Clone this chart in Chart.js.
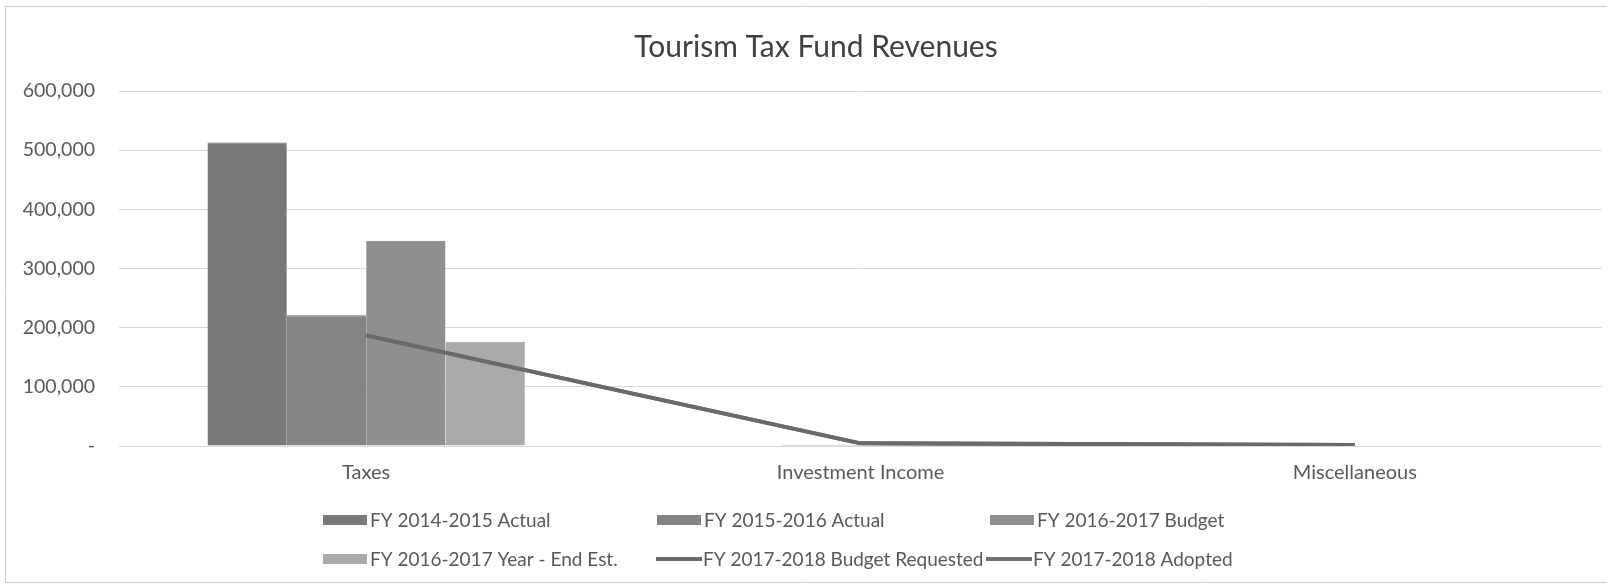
<!DOCTYPE html>
<html>
<head>
<meta charset="utf-8">
<script src="https://cdn.jsdelivr.net/npm/chart.js@4/dist/chart.umd.min.js"></script>
<style>
html,body{margin:0;padding:0;background:#ffffff;}
#wrap{width:1608px;height:585px;position:relative;}
</style>
</head>
<body>
<div id="wrap"><canvas id="c" width="1608" height="585"></canvas></div>
<script>
// ---- data ----
const categories = ['Taxes', 'Investment Income', 'Miscellaneous'];
const seriesNames = [
  'FY 2014-2015 Actual',
  'FY 2015-2016 Actual',
  'FY 2016-2017 Budget',
  'FY 2016-2017 Year - End Est.',
  'FY 2017-2018 Budget Requested',
  'FY 2017-2018 Adopted'
];
const fy1415Actual    = [513000, 0, 0];
const fy1516Actual    = [221000, 2000, 0];
const fy1617Budget    = [347000, 0, 0];
const fy1617YearEnd   = [176000, 0, 0];
const fy1718Requested = [187000, 4500, 1500];
const fy1718Adopted   = [187000, 4500, 1500];
const yTickValues = [0, 100000, 200000, 300000, 400000, 500000, 600000];

// ---- styling ----
const FONT = 'Lato, "Open Sans", "Noto Sans", sans-serif';
const barColors = ['#797979', '#848484', '#8f8f8f', '#aaaaaa'];
const barBorders = ['#5e5e5e', '#707070', '#7a7a7a', '#9a9a9a'];
const lineColors = ['#6a6a6a', '#707070'];
const legendSlots = [
  {x: 323, y: 520}, {x: 657, y: 520}, {x: 990, y: 520},
  {x: 323, y: 559}, {x: 656, y: 559}, {x: 986, y: 559}
];

const barSeries = [fy1415Actual, fy1516Actual, fy1617Budget, fy1617YearEnd];
const lineSeries = [fy1718Requested, fy1718Adopted];

const datasets = [];
barSeries.forEach((vals, i) => {
  datasets.push({
    type: 'bar',
    label: seriesNames[i],
    data: vals,
    backgroundColor: barColors[i],
    borderColor: barBorders[i],
    borderWidth: {top: 1, left: 0, right: 0, bottom: 0},
    borderSkipped: 'bottom',
    categoryPercentage: 0.642,
    barPercentage: 1.0,
    order: 1
  });
});
lineSeries.forEach((vals, i) => {
  datasets.push({
    type: 'line',
    label: seriesNames[4 + i],
    data: vals,
    borderColor: lineColors[i],
    backgroundColor: lineColors[i],
    borderWidth: 4,
    pointRadius: 0,
    tension: 0,
    fill: false,
    order: 0
  });
});

const frameLegendPlugin = {
  id: 'frameLegend',
  afterLayout(chart) {
    // centre the title slightly right of the canvas centre, as in the reference
    if (chart.titleBlock) {
      chart.titleBlock.left = 30;
      chart.titleBlock.right = 1602;
      chart.titleBlock.width = 1572;
    }
  },
  beforeDraw(chart) {
    const ctx = chart.ctx;
    ctx.save();
    ctx.fillStyle = '#ffffff';
    ctx.fillRect(0, 0, chart.width, chart.height);
    ctx.strokeStyle = '#cfcfcf';
    ctx.lineWidth = 1;
    ctx.beginPath();
    ctx.moveTo(1607, 6.5);
    ctx.lineTo(5.5, 6.5);
    ctx.lineTo(5.5, 582.5);
    ctx.lineTo(1607, 582.5);
    ctx.stroke();
    ctx.restore();
  },
  afterDraw(chart) {
    const ctx = chart.ctx;
    ctx.save();
    ctx.font = '19px ' + FONT;
    ctx.textBaseline = 'middle';
    ctx.textAlign = 'left';
    chart.data.datasets.forEach((ds, i) => {
      const s = legendSlots[i];
      if (ds.type === 'line') {
        ctx.strokeStyle = ds.borderColor;
        ctx.lineWidth = 4;
        ctx.beginPath();
        ctx.moveTo(s.x, s.y);
        ctx.lineTo(s.x + 46, s.y);
        ctx.stroke();
      } else {
        ctx.fillStyle = ds.backgroundColor;
        ctx.fillRect(s.x, s.y - 5, 44, 10);
      }
      ctx.fillStyle = '#595959';
      ctx.fillText(ds.label, s.x + 47, s.y + 1);
    });
    ctx.restore();
  }
};

new Chart(document.getElementById('c'), {
  type: 'bar',
  data: { labels: categories, datasets: datasets },
  plugins: [frameLegendPlugin],
  options: {
    responsive: false,
    animation: false,
    devicePixelRatio: 1,
    layout: { padding: { left: 0, right: 6, top: 0, bottom: 85 } },
    plugins: {
      legend: { display: false },
      tooltip: { enabled: false },
      title: {
        display: true,
        text: 'Tourism Tax Fund Revenues',
        color: '#404040',
        font: { family: FONT, size: 30, weight: 'normal' },
        padding: { top: 29, bottom: 26 }
      }
    },
    scales: {
      x: {
        grid: { display: false, drawTicks: false },
        border: { display: false },
        ticks: {
          color: '#595959',
          font: { family: FONT, size: 20 },
          padding: 15,
          maxRotation: 0,
          autoSkip: false
        }
      },
      y: {
        min: 0,
        max: 600000,
        afterBuildTicks(axis) { axis.ticks = yTickValues.map(v => ({ value: v })); },
        afterFit(axis) { axis.width = 119; },
        grid: { color: '#d9d9d9', lineWidth: 1, drawTicks: false },
        border: { display: false },
        ticks: {
          color: '#595959',
          font: { family: FONT, size: 19.5 },
          padding: 24,
          callback: v => v === 0 ? '-' : Number(v).toLocaleString('en-US')
        }
      }
    }
  }
});
</script>
</body>
</html>
